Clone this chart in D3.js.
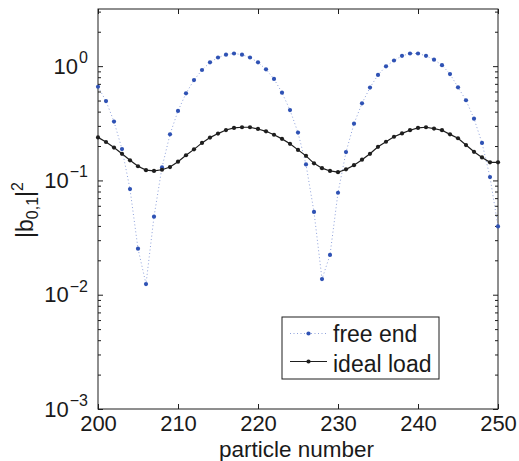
<!DOCTYPE html>
<html>
<head>
<meta charset="utf-8">
<script src="https://cdn.jsdelivr.net/npm/d3@7/dist/d3.min.js"></script>
<style>
html,body{margin:0;padding:0;background:#fff;}
svg{display:block;}
text{font-family:"Liberation Sans",Arial,Helvetica,sans-serif;fill:#1a1a1a;}
</style>
</head>
<body>
<svg id="chart" width="519" height="461"></svg>
<script>
// ---- data ----
const particles = [200,201,202,203,204,205,206,207,208,209,210,211,212,213,214,215,216,217,218,219,220,
  221,222,223,224,225,226,227,228,229,230,231,232,233,234,235,236,237,238,239,240,
  241,242,243,244,245,246,247,248,249,250];
const freeEnd = [0.66,0.495,0.327,0.188,0.084,0.0253,0.0124,0.0482,0.130,0.253,0.406,0.578,0.756,0.925,1.08,1.19,1.26,1.29,1.26,1.19,1.08,
  0.937,0.773,0.586,0.413,0.262,0.138,0.053,0.0137,0.0223,0.078,0.177,0.314,0.473,0.649,0.838,0.997,1.12,1.23,1.29,1.29,
  1.23,1.14,1.02,0.853,0.653,0.503,0.347,0.213,0.107,0.0396];
const idealLoad = [0.238,0.217,0.194,0.171,0.150,0.133,0.123,0.121,0.124,0.131,0.146,0.166,0.187,0.213,0.237,0.257,0.276,0.288,0.292,0.292,0.282,
  0.269,0.251,0.231,0.209,0.185,0.164,0.141,0.128,0.121,0.118,0.125,0.136,0.152,0.171,0.197,0.218,0.241,0.258,0.275,0.288,
  0.292,0.284,0.275,0.253,0.234,0.204,0.178,0.159,0.144,0.144];
const xTicks = [200,210,220,230,240,250];
const yTicks = [1e-3,1e-2,1e-1,1];
const yTickExp = ["\u22123","\u22122","\u22121","0"];
const legendLabels = ["free end","ideal load"];
const xLabel = "particle number";

// ---- layout ----
const L = 98, R = 498, T = 9, B = 409;
const svg = d3.select("#chart");
const x = d3.scaleLinear().domain([200,250]).range([L,R]);
const y = d3.scaleLog().domain([1e-3, Math.pow(10,0.5)]).range([B,T]);

const blue = "#2f52b4", black = "#1e1e1e";

// minor log ticks
const minor = [];
for (let k=-3;k<=0;k++) for (let m=2;m<=9;m++){ const v=m*Math.pow(10,k); if (v<=y.domain()[1]) minor.push(v); }

// axes
const fsTick = 22, fs = 23;
const gx = svg.append("g").attr("transform",`translate(0,${B})`)
  .call(d3.axisBottom(x).tickValues(xTicks).tickSizeInner(-5).tickSizeOuter(0).tickPadding(6.5));
const gxTop = svg.append("g").attr("transform",`translate(0,${T})`)
  .call(d3.axisTop(x).tickValues(xTicks).tickSizeInner(-5).tickSizeOuter(0).tickFormat(""));
const gy = svg.append("g").attr("transform",`translate(${L},0)`)
  .call(d3.axisLeft(y).tickValues(yTicks).tickSizeInner(-5).tickSizeOuter(0).tickFormat(""));
const gyR = svg.append("g").attr("transform",`translate(${R},0)`)
  .call(d3.axisRight(y).tickValues(yTicks).tickSizeInner(-5).tickSizeOuter(0).tickFormat(""));
const gyMin = svg.append("g").attr("transform",`translate(${L},0)`)
  .call(d3.axisLeft(y).tickValues(minor).tickSizeInner(-3).tickSizeOuter(0).tickFormat(""));
const gyMinR = svg.append("g").attr("transform",`translate(${R},0)`)
  .call(d3.axisRight(y).tickValues(minor).tickSizeInner(-3).tickSizeOuter(0).tickFormat(""));
[gx,gxTop,gy,gyR,gyMin,gyMinR].forEach(g=>{
  g.select(".domain").remove();
  g.selectAll("line").attr("stroke",black).attr("stroke-width",1);
});
gx.selectAll("text").attr("font-size",fsTick).attr("fill","#1a1a1a").attr("font-family","Liberation Sans, Arial, sans-serif");

// y tick labels with superscripts
yTicks.forEach((v,i)=>{
  const t = svg.append("text").attr("x",88).attr("y",y(v)+7.5).attr("text-anchor","end").attr("font-size",fsTick);
  t.append("tspan").text("10");
  t.append("tspan").attr("font-size",16).attr("dy",-10.5).attr("dx",1).text(yTickExp[i]);
});

// frame
svg.append("rect").attr("x",L).attr("y",T).attr("width",R-L).attr("height",B-T)
  .attr("fill","none").attr("stroke",black).attr("stroke-width",1);

// series
const line = (vals)=>d3.line().x((d,i)=>x(particles[i])).y(d=>y(d))(vals);
svg.append("path").attr("d",line(freeEnd)).attr("fill","none")
  .attr("stroke","#8fa2dc").attr("stroke-width",1).attr("stroke-dasharray","1,2.5");
svg.append("g").selectAll("circle").data(freeEnd).join("circle")
  .attr("cx",(d,i)=>x(particles[i])).attr("cy",d=>y(d)).attr("r",2.1).attr("fill",blue);
svg.append("path").attr("d",line(idealLoad)).attr("fill","none")
  .attr("stroke",black).attr("stroke-width",1.2);
svg.append("g").selectAll("circle").data(idealLoad).join("circle")
  .attr("cx",(d,i)=>x(particles[i])).attr("cy",d=>y(d)).attr("r",2.1).attr("fill",black);

// legend
svg.append("rect").attr("x",282).attr("y",317).attr("width",157).attr("height",62)
  .attr("fill","#fff").attr("stroke",black).attr("stroke-width",1);
svg.append("line").attr("x1",290).attr("x2",327).attr("y1",333.5).attr("y2",333.5)
  .attr("stroke","#8fa2dc").attr("stroke-width",1).attr("stroke-dasharray","1,2.5");
svg.append("circle").attr("cx",308.5).attr("cy",333.5).attr("r",2.1).attr("fill",blue);
svg.append("line").attr("x1",290).attr("x2",327).attr("y1",361.5).attr("y2",361.5)
  .attr("stroke",black).attr("stroke-width",1.2);
svg.append("circle").attr("cx",308.5).attr("cy",361.5).attr("r",2.1).attr("fill",black);
svg.append("text").attr("x",333).attr("y",341.5).attr("font-size",fs).text(legendLabels[0]);
svg.append("text").attr("x",333).attr("y",372).attr("font-size",fs).text(legendLabels[1]);

// axis labels
svg.append("text").attr("x",296.5).attr("y",456.5).attr("text-anchor","middle").attr("font-size",22.5).text(xLabel);
const yl = svg.append("text").attr("transform","translate(33,210) rotate(-90)").attr("text-anchor","middle").attr("font-size",fs);
yl.append("tspan").text("|b");
yl.append("tspan").attr("font-size",16).attr("dy",5).text("0,1");
yl.append("tspan").attr("dy",-5).text("|");
yl.append("tspan").attr("font-size",16).attr("dy",-10).text("2");
</script>
</body>
</html>
